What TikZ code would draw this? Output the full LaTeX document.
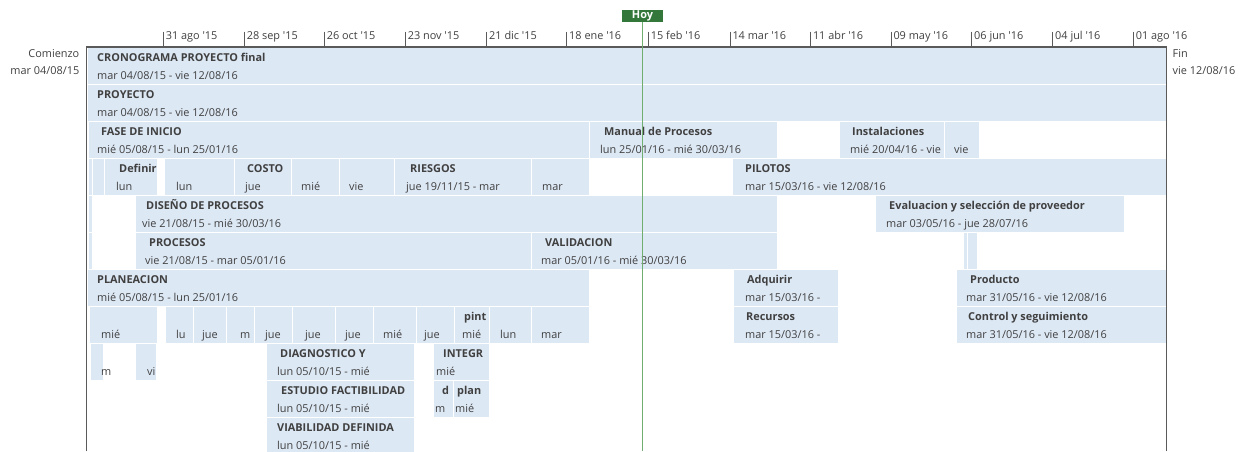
\documentclass[tikz,border=0pt]{standalone}
\usepackage{fontspec}
\setmainfont{Open Sans}[Ligatures=TeXOff]

\definecolor{barblue}{HTML}{DDE8F5}
\definecolor{framegray}{HTML}{5A5A5A}
\definecolor{txtgray}{HTML}{404040}
\definecolor{hoygreen}{HTML}{33783A}
\definecolor{hoyline}{HTML}{6FAE6F}

\newcommand\chartfont{\fontsize{10.9}{12}\selectfont}

\tikzset{
  barbox/.style={draw=white, line width=1pt, fill=barblue, inner sep=0pt,
    anchor=north west, minimum height=37pt},
  ttl/.style={anchor=base west, inner sep=0pt, text=txtgray,
    font=\chartfont\bfseries},
  dte/.style={anchor=base west, inner sep=0pt, text=txtgray,
    font=\chartfont},
  scalelbl/.style={anchor=base west, inner sep=0pt, text=txtgray,
    font=\chartfont},
  sidelbl/.style={inner sep=0pt, text=txtgray, font=\chartfont},
  frameline/.style={draw=framegray, line width=1.5pt},
  tickline/.style={draw=framegray, line width=0.8pt},
}

% bar: name, left x, right x, row
\newcommand\gbar[4]{\node[barbox, minimum width={(#3)-(#2)}] (#1) at (#2,{47+37*(#4-1)}) {};}
% bold task title: name, x, row, text
\newcommand\gttl[4]{\node[ttl] (#1) at (#2,{47+37*(#3-1)+14}) {#4};}
% date line: name, x, row, text
\newcommand\gdte[4]{\node[dte] (#1) at (#2,{47+37*(#3-1)+32}) {#4};}

\begin{document}
\begin{tikzpicture}[x=1pt,y=-1pt]
\useasboundingbox (0,0) rectangle (1241,451);

% ---- row 1
\gbar{cron}{87}{1166}{1}
\gttl{cron-t}{97}{1}{CRONOGRAMA PROYECTO final}
\gdte{cron-d}{97}{1}{mar 04/08/15 - vie 12/08/16}
% ---- row 2
\gbar{proy}{87}{1166}{2}
\gttl{proy-t}{97}{2}{PROYECTO}
\gdte{proy-d}{97}{2}{mar 04/08/15 - vie 12/08/16}
% ---- row 3
\gbar{fase}{88}{589}{3}
\gttl{fase-t}{101}{3}{FASE DE INICIO}
\gdte{fase-d}{97}{3}{mié 05/08/15 - lun 25/01/16}
\gbar{manual}{589}{777}{3}
\gttl{manual-t}{604}{3}{Manual de Procesos}
\gdte{manual-d}{600}{3}{lun 25/01/16 - mié 30/03/16}
\gbar{instal}{839}{944}{3}
\gttl{instal-t}{852}{3}{Instalaciones}
\gdte{instal-d}{850}{3}{mié 20/04/16 - vie}
\gbar{instalb}{944}{979}{3}
\gdte{instalb-d}{954}{3}{vie}
% ---- row 4
\gbar{rowfa}{88}{92}{4}
\gbar{rowfb}{92}{104}{4}
\gbar{definir}{104}{157}{4}
\gttl{definir-t}{119}{4}{Definir}
\gdte{definir-d}{116}{4}{lun}
\gbar{rowfc}{164}{234}{4}
\gdte{rowfc-d}{176}{4}{lun}
\gbar{costo}{234}{291}{4}
\gttl{costo-t}{247}{4}{COSTO}
\gdte{costo-d}{245}{4}{jue}
\gbar{rowfd}{291}{339}{4}
\gdte{rowfd-d}{301}{4}{mié}
\gbar{rowfe}{339}{394}{4}
\gdte{rowfe-d}{349}{4}{vie}
\gbar{riesgos}{394}{531}{4}
\gttl{riesgos-t}{410}{4}{RIESGOS}
\gdte{riesgos-d}{406}{4}{jue 19/11/15 - mar}
\gbar{rowff}{531}{589}{4}
\gdte{rowff-d}{542}{4}{mar}
\gbar{pilotos}{732}{1166}{4}
\gttl{pilotos-t}{745}{4}{PILOTOS}
\gdte{pilotos-d}{745}{4}{mar 15/03/16 - vie 12/08/16}
% ---- row 5
\gbar{rowva}{88}{92}{5}
\gbar{diseno}{135}{777}{5}
\gttl{diseno-t}{146}{5}{DISEÑO DE PROCESOS}
\gdte{diseno-d}{142}{5}{vie 21/08/15 - mié 30/03/16}
\gbar{evalua}{875}{1124}{5}
\gttl{evalua-t}{889}{5}{Evaluacion y selección de proveedor}
\gdte{evalua-d}{886}{5}{mar 03/05/16 - jue 28/07/16}
% ---- row 6
\gbar{rowxa}{88}{92}{6}
\gbar{procesos}{135}{531}{6}
\gttl{procesos-t}{149}{6}{PROCESOS}
\gdte{procesos-d}{145}{6}{vie 21/08/15 - mar 05/01/16}
\gbar{valid}{531}{777}{6}
\gttl{valid-t}{545}{6}{VALIDACION}
\gdte{valid-d}{541}{6}{mar 05/01/16 - mié 30/03/16}
\gbar{rowxb}{963}{967}{6}
\gbar{rowxc}{967}{977}{6}
% ---- row 7
\gbar{plane}{87}{589}{7}
\gttl{plane-t}{97}{7}{PLANEACION}
\gdte{plane-d}{97}{7}{mié 05/08/15 - lun 25/01/16}
\gbar{adqui}{733}{838}{7}
\gttl{adqui-t}{747}{7}{Adquirir}
\gdte{adqui-d}{745}{7}{mar 15/03/16 -}
\gbar{produc}{956}{1166}{7}
\gttl{produc-t}{970}{7}{Producto}
\gdte{produc-d}{966}{7}{mar 31/05/16 - vie 12/08/16}
% ---- row 8
\gbar{rowha}{89}{157}{8}
\gdte{rowha-d}{101}{8}{mié}
\gbar{rowhb}{165}{193}{8}
\gdte{rowhb-d}{176}{8}{lu}
\gbar{rowhc}{193}{226}{8}
\gdte{rowhc-d}{202}{8}{jue}
\gbar{rowhd}{226}{254}{8}
\gdte{rowhd-d}{240}{8}{m}
\gbar{rowhe}{254}{292}{8}
\gdte{rowhe-d}{265}{8}{jue}
\gbar{rowhf}{292}{335}{8}
\gdte{rowhf-d}{305}{8}{jue}
\gbar{rowhg}{335}{373}{8}
\gdte{rowhg-d}{345}{8}{jue}
\gbar{rowhh}{373}{416}{8}
\gdte{rowhh-d}{383}{8}{mié}
\gbar{rowhi}{416}{454}{8}
\gdte{rowhi-d}{424}{8}{jue}
\gbar{pint}{454}{489}{8}
\gttl{pint-t}{464}{8}{pint}
\gdte{pint-d}{462}{8}{mié}
\gbar{rowhj}{489}{531}{8}
\gdte{rowhj-d}{500}{8}{lun}
\gbar{rowhk}{531}{589}{8}
\gdte{rowhk-d}{541}{8}{mar}
\gbar{recurs}{733}{838}{8}
\gttl{recurs-t}{746}{8}{Recursos}
\gdte{recurs-d}{745}{8}{mar 15/03/16 -}
\gbar{control}{956}{1166}{8}
\gttl{control-t}{968}{8}{Control y seguimiento}
\gdte{control-d}{966}{8}{mar 31/05/16 - vie 12/08/16}
% ---- row 9
\gbar{rowia}{90}{103}{9}
\gdte{rowia-d}{101}{9}{m}
\gbar{rowib}{135}{156}{9}
\gdte{rowib-d}{147}{9}{vi}
\gbar{diag}{266}{414}{9}
\gttl{diag-t}{280}{9}{DIAGNOSTICO Y}
\gdte{diag-d}{277}{9}{lun 05/10/15 - mié}
\gbar{integr}{433}{489}{9}
\gttl{integr-t}{443}{9}{INTEGR}
\gdte{integr-d}{436}{9}{mié}
% ---- row 10
\gbar{estudio}{266}{414}{10}
\gttl{estudio-t}{281}{10}{ESTUDIO FACTIBILIDAD}
\gdte{estudio-d}{277}{10}{lun 05/10/15 - mié}
\gbar{rowja}{433}{453}{10}
\gttl{rowja-t}{442}{10}{d}
\gdte{rowja-d}{435}{10}{m}
\gbar{plan}{453}{489}{10}
\gttl{plan-t}{457}{10}{plan}
\gdte{plan-d}{455}{10}{mié}
% ---- row 11
\gbar{viab}{266}{414}{11}
\gttl{viab-t}{277}{11}{VIABILIDAD DEFINIDA}
\gdte{viab-d}{277}{11}{lun 05/10/15 - mié}

% ---- frame and time scale
\coordinate (axl) at (86.5,47);
\coordinate (axr) at (1166.5,47);
\coordinate (botl) at (86.5,451);
\coordinate (botr) at (1166.5,451);
\draw[frameline] (botl) -- (axl) -- (axr) -- (botr);

\foreach \x/\lab [count=\i] in {163.3/31 ago '15, 244.3/28 sep '15, 324.3/26 oct '15,
    405.3/23 nov '15, 486.7/21 dic '15, 566.7/18 ene '16, 648.3/15 feb '16,
    730/14 mar '16, 810.5/11 abr '16, 891/09 may '16, 971.7/06 jun '16,
    1052.7/04 jul '16, 1133.3/01 ago '16}{
  \coordinate (tk\i) at (\x,31.5);
  \draw[tickline] (tk\i) -- (tk\i |- axl);
  \node[scalelbl] (tl\i) at (\x+2.3,39.5) {\lab};
}

% ---- start / finish labels
\node[sidelbl, anchor=base east] (startlbl) at (79.5,57) {Comienzo};
\node[sidelbl, anchor=base east] (startdate) at (79.5,74) {mar 04/08/15};
\node[sidelbl, anchor=base west] (endlbl) at (1172.5,57) {Fin};
\node[sidelbl, anchor=base west] (enddate) at (1172.5,74) {vie 12/08/16};

% ---- today marker
\node[fill=hoygreen, text=white, inner sep=0pt, minimum width=41pt, minimum height=11.5pt,
  font=\chartfont\bfseries] (hoy) at (642.5,15.75) {\raisebox{-0.6pt}{Hoy}};
\coordinate (hoyend) at (642.7,451);
\draw[hoyline, line width=1pt] (hoy.south -| hoyend) -- (hoyend);
\end{tikzpicture}
\end{document}
